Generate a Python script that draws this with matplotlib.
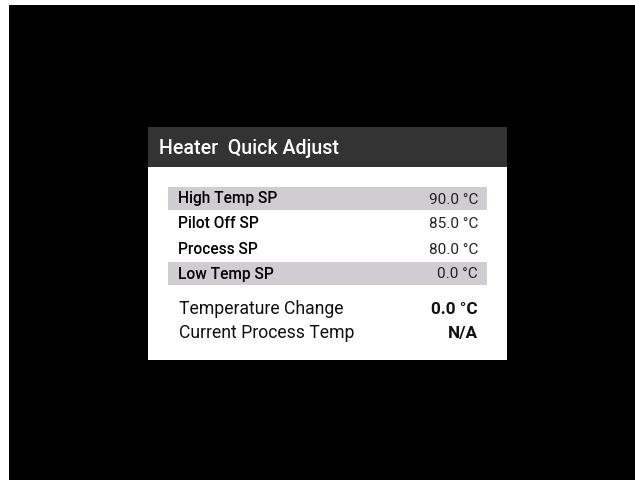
import matplotlib
matplotlib.use("Agg")
import matplotlib.pyplot as plt
import matplotlib.patches as patches

# Contenu du panneau
title = "Heater  Quick Adjust"
sp_labels = ["High Temp SP", "Pilot Off SP", "Process SP", "Low Temp SP"]
sp_values = [90.0, 85.0, 80.0, 0.0]
sp_shaded = [True, False, False, True]
info_labels = ["Temperature Change", "Current Process Temp"]
info_values = ["0.0 °C", "N/A"]

# Couleurs
header_col = "#333333"
shade_col = "#cfcdd1"

plt.rcParams["font.family"] = ["Roboto", "DejaVu Sans"]

fig = plt.figure(figsize=(6.35, 4.8), dpi=100, facecolor="white")
ax = fig.add_axes([0, 0, 1, 1])
ax.set_xlim(0, 635)
ax.set_ylim(480, 0)
ax.axis("off")

# Fond noir
ax.add_patch(patches.Rectangle((9, 5), 626, 475, facecolor="black", edgecolor="none"))

# Panneau blanc + entête
ax.add_patch(patches.Rectangle((148, 127), 359, 233, facecolor="white", edgecolor="none"))
ax.add_patch(patches.Rectangle((148, 127), 359, 40, facecolor=header_col, edgecolor="none"))
ax.text(159, 154, title, color="white", fontsize=14.1, fontweight="medium", va="baseline", ha="left")

# Lignes des consignes
row_top = 187
row_pitch = 25
for i, (lab, val, sh) in enumerate(zip(sp_labels, sp_values, sp_shaded)):
    y0 = row_top + i * row_pitch
    if sh:
        ax.add_patch(patches.Rectangle((168, y0), 319, 23, facecolor=shade_col, edgecolor="none"))
    ax.text(178, y0 + 16.5, lab, color="black", fontsize=11.2, fontweight="medium", va="baseline", ha="left")
    ax.text(478, y0 + 16.5, f"{val:.1f} °C", color="#222222", fontsize=11, va="baseline", ha="right")

# Infos
info_base = 314
for i, (lab, val) in enumerate(zip(info_labels, info_values)):
    y = info_base + i * 24
    ax.text(179, y, lab, color="#111111", fontsize=12.7, va="baseline", ha="left")
    ax.text(478, y, val, color="#111111", fontsize=12.3, fontweight="bold", va="baseline", ha="right")

fig.savefig("out.png", dpi=100, facecolor="white")
